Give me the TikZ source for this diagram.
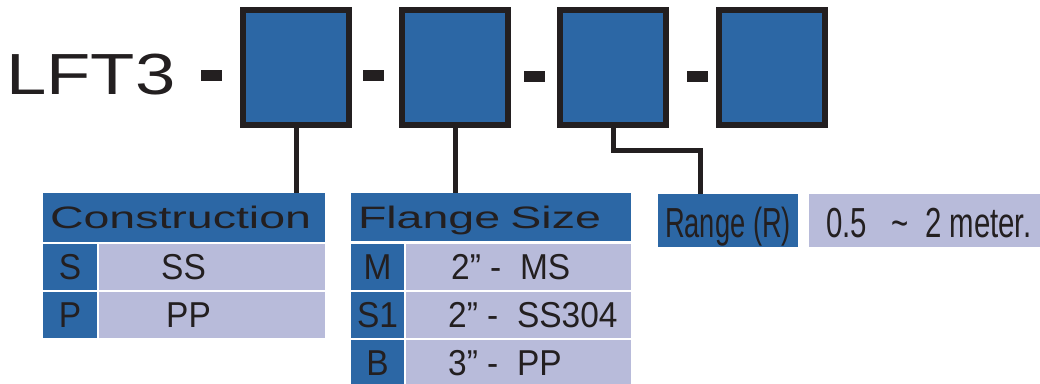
\documentclass[tikz,border=0pt]{standalone}
\usepackage{fontspec}
\setmainfont{Liberation Sans}
\newfontfamily\lftfont[FakeStretch=1.25]{Liberation Sans}
\newfontfamily\widefont[FakeStretch=1.5]{Liberation Sans}
\newfontfamily\cellfont[FakeStretch=0.93]{Liberation Sans}
\newfontfamily\narrowfont[FakeStretch=0.65]{Liberation Sans}
\newfontfamily\rangefont[FakeStretch=0.7]{Liberation Sans}
\definecolor{codeblue}{HTML}{2C67A5}
\definecolor{lav}{HTML}{B8BBDA}
\definecolor{ink}{HTML}{231F20}
\tikzset{
  codebox/.style  = {rectangle, draw=ink, line width=6pt, fill=codeblue, minimum width=106pt, minimum height=115pt, inner sep=0pt, outer sep=0pt},
  hyph/.style     = {rectangle, fill=ink, minimum width=21pt, minimum height=11pt, inner sep=0pt},
  wire/.style     = {draw=ink, line width=5pt},
  head/.style     = {rectangle, fill=codeblue, anchor=north west, inner sep=0pt, outer sep=0pt, text=ink, text depth=0pt, font=\widefont\fontsize{31}{36}\selectfont},
  title/.style    = {head, inner xsep=7pt, align=left},
  keycell/.style  = {head, font=\cellfont\fontsize{36}{42}\selectfont, minimum height=46pt},
  val/.style      = {rectangle, fill=lav, anchor=north west, inner sep=0pt, outer sep=0pt, minimum height=46pt},
  txt/.style      = {anchor=west, inner sep=0pt, text=ink, text depth=0pt, font=\cellfont\fontsize{36}{42}\selectfont},
  narrow/.style   = {inner sep=0pt, text=ink, font=\narrowfont\fontsize{42}{50}\selectfont}
}
\begin{document}
\begin{tikzpicture}[x=1pt, y=-1pt]
  \useasboundingbox (0,0) rectangle (1040,383);

  % model code
  \node[anchor=base west, inner sep=0pt, text=ink, font=\lftfont\fontsize{58}{70}\selectfont] (model) at (6,94) {LFT3};
  \node[hyph] (d1) at (211,75.5) {};
  \node[codebox] (b1) at (296,67.5) {};
  \node[hyph] (d2) at (373,75.5) {};
  \node[codebox] (b2) at (455,67.5) {};
  \node[hyph] (d3) at (534,76) {};
  \node[codebox] (b3) at (613,67.5) {};
  \node[hyph] (d4) at (697,76) {};
  \node[codebox] (b4) at (772,67.5) {};

  % construction
  \node[title, text width=268pt, minimum height=49pt] (cons) at (43,193) {Construction};
  \node[keycell, minimum width=54pt] (ks) at (43,244) {S};  \node[val, minimum width=226pt] (vs) at (99,244) {};
  \node[txt] (ts) at ([xshift=62pt]vs.west) {SS};
  \node[keycell, minimum width=54pt] (kp) at (43,292) {P};  \node[val, minimum width=226pt] (vp) at (99,292) {};
  \node[txt] (tp) at ([xshift=67pt]vp.west) {PP};

  % flange size
  \node[title, text width=266pt, minimum height=48pt] (flg) at (351,193) {Flange Size};
  \node[keycell, minimum width=53pt] (km) at (351,244) {M};  \node[val, minimum width=225pt] (vm) at (406,244) {};
  \node[txt] (tm) at ([xshift=45pt]vm.west) {2” -\ \ MS};
  \node[keycell, minimum width=53pt] (ks1) at (351,292) {S1}; \node[val, minimum width=225pt] (vs1) at (406,292) {};
  \node[txt] (ts1) at ([xshift=42pt]vs1.west) {2” -\ \ SS304};
  \node[keycell, minimum width=53pt] (kb) at (351,340) {B};  \node[val, minimum width=225pt] (vb) at (406,340) {};
  \node[txt] (tb) at ([xshift=42pt]vb.west) {3” -\ \ PP};

  % range
  \node[head, minimum width=140pt, minimum height=53pt] (rng) at (658,194) {};
  \node[narrow, anchor=base] (rngtxt) at ([yshift=-16.5pt]rng.center) {Range (R)};
  \node[val, minimum width=240pt, minimum height=53pt] (rngval) at (809,194) {};
  \node[narrow, font=\rangefont\fontsize{42}{50}\selectfont, anchor=base west] (rngvaltxt) at ([xshift=17pt, yshift=-16.5pt]rngval.west) {0.5\ \ \ \textasciitilde\ \ 2 meter.};

  % connectors
  \draw[wire] (b1.south) -- (b1.south |- cons.north);
  \draw[wire] (b2.south) -- (b2.south |- flg.north);
  \coordinate (kink) at (700,150);
  \draw[wire] (b3.south) |- (kink) -- (kink |- rng.north);

\end{tikzpicture}
\end{document}
